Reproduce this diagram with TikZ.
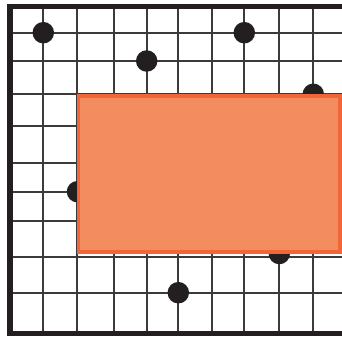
\documentclass[tikz,border=0pt]{standalone}
\definecolor{gridc}{HTML}{3C3A3A}
\definecolor{framec}{HTML}{231F20}
\definecolor{rectfill}{HTML}{F38D5F}
\definecolor{rectline}{HTML}{F26536}
\tikzset{
  gridline/.style={draw=gridc,line width=1.7pt},
  framel/.style={draw=framec,line width=5.4pt,line join=miter},
  dot/.style={circle,fill=framec,inner sep=0pt,minimum size=21.5pt},
  block/.style={fill=rectfill,draw=rectline,line width=3.6pt}
}
\begin{document}
\begin{tikzpicture}[x=1pt,y=-1pt]
\useasboundingbox (0,0) rectangle (342,337);
\fill[white] (0,0) rectangle (342,337);
% grid
\foreach \x in {43.3,76.7,114.3,146.7,178.3,212.3,244.3,279.3,313.3}
  \draw[gridline] (\x,6.7) -- (\x,333.3);
\foreach \y in {32.7,61,94.3,126,163.3,191.7,220.7,256.7,292.7}
  \draw[gridline] (10,\y) -- (342,\y);
% dots
\node[dot] (d1) at (43.3,32.7) {};
\node[dot] (d2) at (146.7,61) {};
\node[dot] (d3) at (244.3,32.7) {};
\node[dot] (d4) at (313.3,94.3) {};
\node[dot] (d5) at (77.5,191.7) {};
\node[dot] (d6) at (279.3,253.5) {};
\node[dot] (d7) at (178.3,292.7) {};
% rectangle
\path[block] (78.5,96) rectangle (340.2,252.2);
% frame
\draw[framel] (342,6.7) -- (10,6.7) -- (10,333.3) -- (342,333.3);
\end{tikzpicture}
\end{document}
